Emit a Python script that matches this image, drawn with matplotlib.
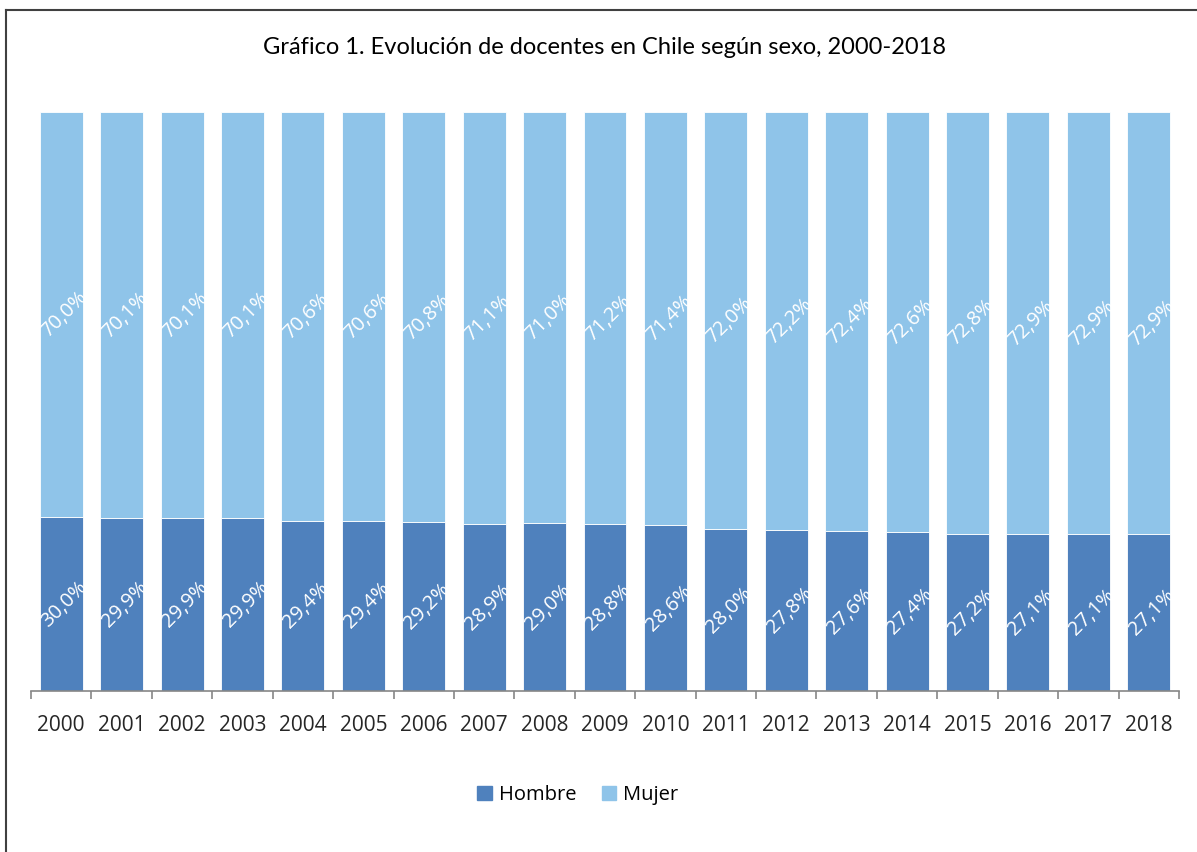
import matplotlib
matplotlib.use("Agg")
import matplotlib.pyplot as plt
from matplotlib.lines import Line2D
from matplotlib.patches import Patch
import numpy as np

# 데이터
years = [str(y) for y in range(2000, 2019)]
hombre = [30.0, 29.9, 29.9, 29.9, 29.4, 29.4, 29.2, 28.9, 29.0, 28.8,
          28.6, 28.0, 27.8, 27.6, 27.4, 27.2, 27.1, 27.1, 27.1]
mujer = [70.0, 70.1, 70.1, 70.1, 70.6, 70.6, 70.8, 71.1, 71.0, 71.2,
         71.4, 72.0, 72.2, 72.4, 72.6, 72.8, 72.9, 72.9, 72.9]

c_h = "#4f81bd"
c_m = "#8fc4e9"

fig = plt.figure(figsize=(11.97, 8.52), dpi=100)
ax = fig.add_axes([31/1197, 1 - 691/852, (1179-31)/1197, (691-112)/852])

x = np.arange(len(years))
tot = np.array(hombre) + np.array(mujer)
h_share = np.array(hombre) / tot
m_share = np.array(mujer) / tot

ax.bar(x, h_share, width=0.71, color=c_h, edgecolor="white", linewidth=0.6)
ax.bar(x, m_share, width=0.71, bottom=h_share, color=c_m, edgecolor="white", linewidth=0.6)

fnt = "Open Sans"
for i in range(len(years)):
    ax.text(x[i] + 0.06, h_share[i] / 2, f"{hombre[i]:.1f}%".replace(".", ","),
            rotation=45, ha="center", va="center", color="white",
            fontsize=14.5, family=fnt)
    ax.text(x[i] + 0.06, h_share[i] + m_share[i] / 2, f"{mujer[i]:.1f}%".replace(".", ","),
            rotation=45, ha="center", va="center", color="white",
            fontsize=14.5, family=fnt)

ax.set_xlim(-0.5, len(years) - 0.5)
ax.set_ylim(0, 1)
ax.set_yticks([])
for s in ["top", "right", "left"]:
    ax.spines[s].set_visible(False)
ax.spines["bottom"].set_color("#868686")
ax.spines["bottom"].set_linewidth(1.2)

ax.set_xticks(x)
ax.set_xticklabels(years, family=fnt, fontsize=15, color="#262626")
ax.tick_params(axis="x", length=0, pad=17)
ax.set_xticks(np.arange(-0.5, len(years)), minor=True)
ax.tick_params(axis="x", which="minor", length=6, color="#868686", width=1.2)

fig.text(0.505, 1 - 48/852, "Gráfico 1. Evolución de docentes en Chile según sexo, 2000-2018",
         ha="center", va="center", fontsize=17, family="Lato", color="black")

handles = [Patch(color=c_h, label="Hombre"), Patch(color=c_m, label="Mujer")]
fig.legend(handles=handles, loc="center", bbox_to_anchor=(578/1197, 1 - 795/852),
           ncol=2, frameon=False, prop={"family": fnt, "size": 14.5},
           handlelength=0.7, handleheight=0.7, handletextpad=0.35, columnspacing=1.3)

# 바깥 테두리
fig.add_artist(Line2D([6/1197, 1], [1 - 10/852, 1 - 10/852], color="#404040", lw=1.5))
fig.add_artist(Line2D([6/1197, 6/1197], [0, 1 - 10/852], color="#404040", lw=1.5))

fig.savefig("out.png", dpi=100)
